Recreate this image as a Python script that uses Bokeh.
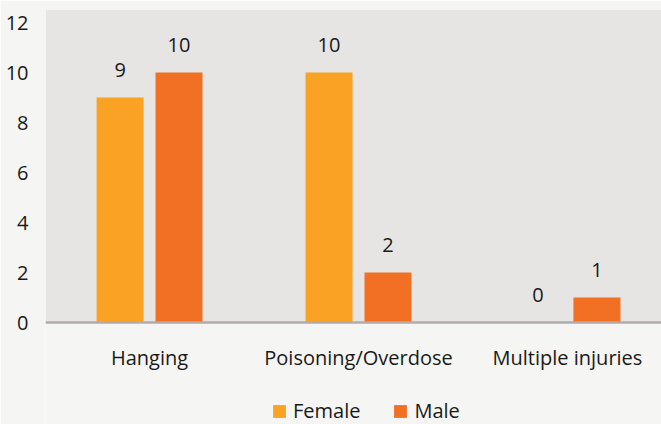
from bokeh.plotting import figure
from bokeh.models import ColumnDataSource, Range1d, FixedTicker, Legend, LegendItem, BoxAnnotation, Span
from bokeh.core.properties import value
from bokeh.embed import file_html
from bokeh.resources import INLINE

categories = ["Hanging", "Poisoning/Overdose", "Multiple injuries"]
female = [9, 10, 0]
male = [10, 2, 1]
y_ticks = [0, 2, 4, 6, 8, 10, 12]

FONT = "Open Sans"
C_F = "#F9A223"
C_M = "#F27024"
BG_OUT = "#F5F5F3"
BG_IN = "#E6E5E3"

idx = list(range(len(categories)))
off = 0.141
w = 0.225

src_f = ColumnDataSource(dict(x=[i - off for i in idx], top=female, lab=[str(v) for v in female]))
src_m = ColumnDataSource(dict(x=[i + off for i in idx], top=male, lab=[str(v) for v in male]))
src_c = ColumnDataSource(dict(x=idx, y=[0] * len(idx), lab=categories))

p = figure(width=661, height=424, output_backend="svg", toolbar_location=None,
           x_range=Range1d(-0.498, 2.45), y_range=Range1d(-4.08, 12.52),
           min_border_left=45, min_border_right=0, min_border_top=9, min_border_bottom=0)
p.background_fill_color = BG_OUT
p.border_fill_color = BG_OUT
p.outline_line_color = None
p.grid.visible = False

p.add_layout(BoxAnnotation(bottom=0, fill_color=BG_IN, fill_alpha=1, line_color=None, level="underlay"))

rf = p.vbar(x="x", top="top", width=w, source=src_f, fill_color=C_F, line_color=None)
rm = p.vbar(x="x", top="top", width=w, source=src_m, fill_color=C_M, line_color=None)

p.add_layout(Span(location=0, dimension="width", line_color="#B3ABA9", line_width=2.5))

for s in (src_f, src_m):
    p.text(x="x", y="top", text="lab", source=s, text_align="center", text_baseline="middle",
           y_offset=-28, text_font=value(FONT), text_font_size="20px", text_color="#1a1a1a")

p.text(x="x", y="y", text="lab", source=src_c, text_align="center", text_baseline="middle",
       y_offset=35, text_font=value(FONT), text_font_size="20px", text_color="#1a1a1a")

p.xaxis.visible = False
p.yaxis.ticker = FixedTicker(ticks=y_ticks)
p.yaxis.axis_line_color = None
p.yaxis.major_tick_line_color = None
p.yaxis.minor_tick_line_color = None
p.yaxis.major_label_standoff = 11
p.yaxis.major_label_text_font = FONT
p.yaxis.major_label_text_font_size = "20px"
p.yaxis.major_label_text_color = "#1a1a1a"

legend = Legend(items=[LegendItem(label="Female", renderers=[rf]),
                       LegendItem(label="Male", renderers=[rm])],
                orientation="horizontal", location=(226, 0))
legend.background_fill_alpha = 0
legend.border_line_color = None
legend.glyph_width = 16
legend.glyph_height = 16
legend.label_standoff = 6
legend.spacing = 32
legend.padding = 0
legend.margin = 0
legend.label_text_font = FONT
legend.label_text_font_size = "20px"
legend.label_text_color = "#1a1a1a"
p.add_layout(legend, "center")

open("out.html", "w").write(file_html(p, INLINE))
